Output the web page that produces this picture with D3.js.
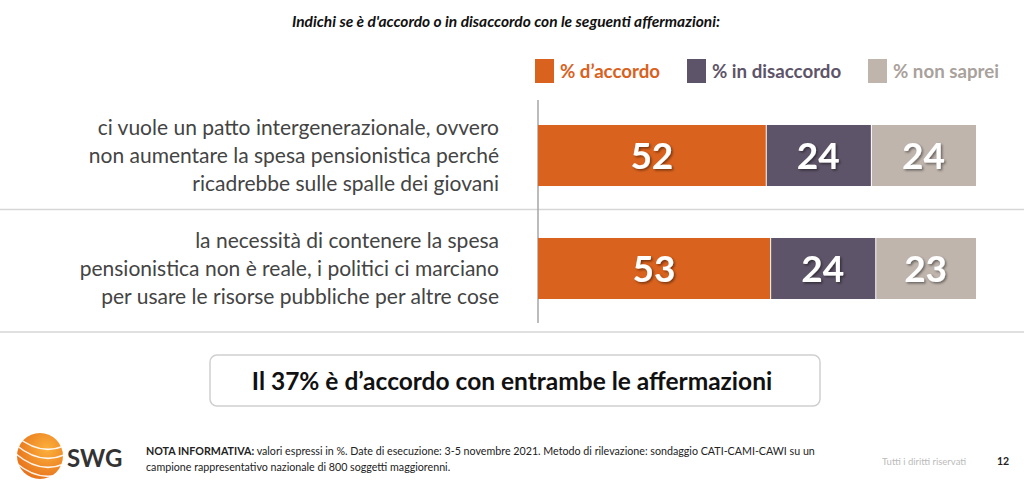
<!DOCTYPE html>
<html lang="it">
  <head>
    <meta charset="UTF-8" />
    <title>SWG - patto intergenerazionale</title>
    <style>
      body { margin: 0; background: #fff; }
      svg { display: block; font-family: Lato, "Noto Sans", sans-serif; }
    </style>
  </head>
  <body>
    <svg width="1024" height="495"></svg>

    <script src="https://d3js.org/d3.v7.min.js"></script>
    <script>
      (function () {
        "use strict";

        // dati
        var categories = [
          ["ci vuole un patto intergenerazionale, ovvero", "non aumentare la spesa pensionistica perché", "ricadrebbe sulle spalle dei giovani"],
          ["la necessità di contenere la spesa", "pensionistica non è reale, i politici ci marciano", "per usare le risorse pubbliche per altre cose"]
        ];
        var seriesNames = ["% d\u2019accordo", "% in disaccordo", "% non saprei"];
        var accordo = [52, 53];
        var disaccordo = [24, 24];
        var nonSaprei = [24, 23];
        var colors = ["#D9621E", "#5E5469", "#BFB5AD"];
        var legendText = ["#D9621E", "#5E5469", "#A9A19B"];

        var svg = d3.select("svg");

        // titolo
        svg.append("text")
          .attr("x", 506).attr("y", 27)
          .attr("text-anchor", "middle")
          .attr("font-size", 15.5).attr("font-weight", "bold").attr("font-style", "italic")
          .attr("fill", "#111")
          .text("Indichi se è d'accordo o in disaccordo con le seguenti affermazioni:");

        var x = d3.scaleLinear().domain([0, 100]).range([538, 976]);
        var y = d3.scaleBand().domain(d3.range(categories.length)).range([99, 325])
          .paddingInner(0.46).paddingOuter(0.23);

        // legenda
        var legX = [535, 687, 868];
        var leg = svg.selectAll("g.leg").data(seriesNames).enter().append("g")
          .attr("transform", function (d, i) { return "translate(" + legX[i] + ",59)"; });
        leg.append("rect").attr("width", 19).attr("height", 24)
          .attr("fill", function (d, i) { return colors[i]; });
        leg.append("text").attr("x", 25).attr("y", 18.5)
          .attr("font-size", 18.7).attr("font-weight", "bold")
          .attr("fill", function (d, i) { return legendText[i]; })
          .text(function (d) { return d; });

        // linee separatrici
        svg.append("line").attr("x1", 0).attr("x2", 1024).attr("y1", 209.5).attr("y2", 209.5)
          .attr("stroke", "#d6d6d6").attr("stroke-width", 1.5);
        svg.append("line").attr("x1", 0).attr("x2", 1024).attr("y1", 332).attr("y2", 332)
          .attr("stroke", "#d6d6d6").attr("stroke-width", 1.5);
        svg.append("line").attr("x1", 538).attr("x2", 538).attr("y1", 100).attr("y2", 323)
          .attr("stroke", "#a6a6a6").attr("stroke-width", 1.5);

        // etichette delle categorie
        var lab = svg.selectAll("text.cat").data(categories).enter().append("text")
          .attr("class", "cat")
          .attr("text-anchor", "end")
          .attr("font-size", 21)
          .attr("fill", "#444");
        lab.selectAll("tspan").data(function (d, i) {
          return d.map(function (t, j) { return { t: t, i: i, j: j }; });
        }).enter().append("tspan")
          .attr("x", 499)
          .attr("y", function (d) { return y(d.i) + y.bandwidth() / 2 - 21 + d.j * 28; })
          .text(function (d) { return d.t; });

        // barre impilate
        var rows = categories.map(function (c, i) {
          return { i: i, v: [accordo[i], disaccordo[i], nonSaprei[i]] };
        });
        var segs = [];
        rows.forEach(function (r) {
          var acc = 0;
          r.v.forEach(function (v, k) {
            segs.push({ i: r.i, k: k, x0: acc, x1: acc + v, v: v });
            acc += v;
          });
        });

        var defs = svg.append("defs");
        var f = defs.append("filter").attr("id", "shadow").attr("x", "-20%").attr("y", "-20%")
          .attr("width", "140%").attr("height", "140%");
        f.append("feDropShadow").attr("dx", 1.5).attr("dy", 1.5).attr("stdDeviation", 1)
          .attr("flood-color", "#000").attr("flood-opacity", 0.45);

        svg.selectAll("rect.bar").data(segs).enter().append("rect")
          .attr("class", "bar")
          .attr("x", function (d) { return x(d.x0) + (d.k > 0 ? 1 : 0); })
          .attr("width", function (d) { return x(d.x1) - x(d.x0) - (d.k > 0 ? 1 : 0); })
          .attr("y", function (d) { return y(d.i); })
          .attr("height", y.bandwidth())
          .attr("fill", function (d) { return colors[d.k]; });

        svg.selectAll("text.val").data(segs).enter().append("text")
          .attr("class", "val")
          .attr("x", function (d) { return (x(d.x0) + x(d.x1)) / 2; })
          .attr("y", function (d) { return y(d.i) + y.bandwidth() / 2 + 13; })
          .attr("text-anchor", "middle")
          .attr("font-size", 37).attr("font-weight", "bold")
          .attr("fill", "#fff")
          .attr("filter", "url(#shadow)")
          .text(function (d) { return d.v; });

        // riquadro
        svg.append("rect").attr("x", 210).attr("y", 355).attr("width", 610).attr("height", 51)
          .attr("rx", 7).attr("fill", "#fff").attr("stroke", "#cfcfcf").attr("stroke-width", 1.5);
        svg.append("text").attr("x", 512).attr("y", 390)
          .attr("text-anchor", "middle").attr("font-size", 24.5).attr("font-weight", "bold")
          .attr("fill", "#111")
          .text("Il 37% è d\u2019accordo con entrambe le affermazioni");

        // logo
        var grad = defs.append("radialGradient").attr("id", "lg").attr("cx", "65%").attr("cy", "35%").attr("r", "70%");
        grad.append("stop").attr("offset", "0%").attr("stop-color", "#FBB03B");
        grad.append("stop").attr("offset", "100%").attr("stop-color", "#E8731C");
        var logo = svg.append("g").attr("transform", "translate(40,456)");
        logo.append("circle").attr("r", 23).attr("fill", "url(#lg)");
        [-14, -5, 4, 13].forEach(function (o) {
          logo.append("path")
            .attr("d", "M" + (-24) + "," + (o - 6) + " Q 0," + (o + 14) + " 24," + (o + 4))
            .attr("fill", "none").attr("stroke", "#fff").attr("stroke-width", 1.6).attr("opacity", 0.9);
        });
        svg.append("text").attr("x", 67).attr("y", 467)
          .attr("font-size", 24).attr("font-weight", "bold").attr("fill", "#333")
          .text("SWG");

        // nota
        var nota = svg.append("text").attr("font-size", 10.7).attr("fill", "#222");
        var l1 = nota.append("tspan").attr("x", 146).attr("y", 455);
        l1.append("tspan").attr("font-weight", "bold").text("NOTA INFORMATIVA:");
        l1.append("tspan").text(" valori espressi in %. Date di esecuzione: 3-5 novembre 2021. Metodo di rilevazione: sondaggio CATI-CAMI-CAWI su un");
        nota.append("tspan").attr("x", 146).attr("y", 471)
          .text("campione rappresentativo nazionale di 800 soggetti maggiorenni.");

        svg.append("text").attr("x", 882).attr("y", 465).attr("font-size", 9.5).attr("fill", "#bbb")
          .text("Tutti i diritti riservati");
        svg.append("text").attr("x", 997).attr("y", 465).attr("font-size", 10.5).attr("font-weight", "bold")
          .attr("fill", "#222").text("12");
      })();
    </script>
  </body>
</html>
